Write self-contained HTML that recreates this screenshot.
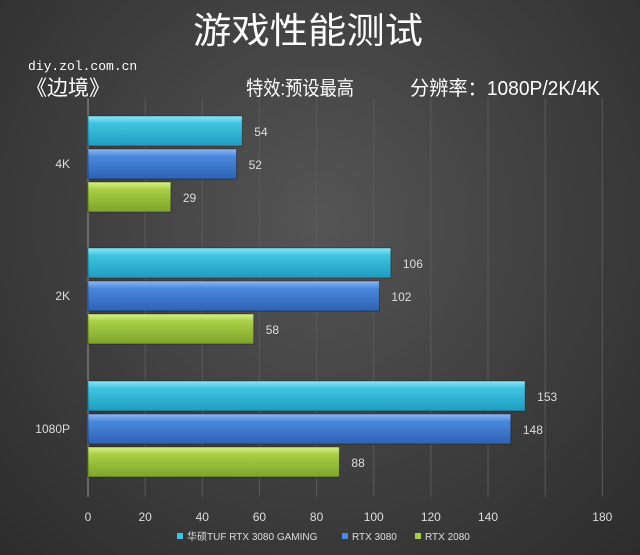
<!DOCTYPE html>
<html><head><meta charset="utf-8"><style>
body{margin:0;width:640px;height:555px;overflow:hidden;background:radial-gradient(ellipse at 50% 40%,#555 0%,#3e3e3e 55%,#2c2c2c 100%);font-family:"Liberation Sans","Noto Sans CJK SC",sans-serif;}
svg{position:absolute;left:0;top:0}
</style></head><body>
<svg width="640" height="555">
<defs>
<linearGradient id="gc" x1="0" y1="0" x2="0" y2="1"><stop offset="0" stop-color="#8ee6f5"/><stop offset="0.25" stop-color="#3ec4e0"/><stop offset="1" stop-color="#1f9cc0"/></linearGradient>
<linearGradient id="gb" x1="0" y1="0" x2="0" y2="1"><stop offset="0" stop-color="#8fb8f0"/><stop offset="0.25" stop-color="#4a88dc"/><stop offset="1" stop-color="#2e62b4"/></linearGradient>
<linearGradient id="gg" x1="0" y1="0" x2="0" y2="1"><stop offset="0" stop-color="#d8f08a"/><stop offset="0.25" stop-color="#a8cf45"/><stop offset="1" stop-color="#7ea42a"/></linearGradient>
</defs>
<text x="193" y="43" textLength="230" lengthAdjust="spacingAndGlyphs" fill="#fff" font-size="36">游戏性能测试</text>
<text x="28" y="70" fill="#fff" font-size="13" font-family="Liberation Mono,monospace">diy.zol.com.cn</text>
<text x="26" y="95" fill="#fff" font-size="21">《边境》</text>
<text x="246" y="95" textLength="108" lengthAdjust="spacingAndGlyphs" fill="#fff" font-size="20">特效:预设最高</text>
<text x="410" y="95" textLength="190" lengthAdjust="spacingAndGlyphs" fill="#fff" font-size="20">分辨率：1080P/2K/4K</text>
<g id="grid"></g><g id="bars"></g><g id="labels"></g>
<g>
<rect x="177" y="533" width="6" height="6" fill="#3ec4e0"/><text x="187" y="540" fill="#ddd" font-size="10">华硕TUF RTX 3080 GAMING</text>
<rect x="342" y="533" width="6" height="6" fill="#4a88dc"/><text x="352" y="540" fill="#ddd" font-size="10">RTX 3080</text>
<rect x="415" y="533" width="6" height="6" fill="#a8cf45"/><text x="425" y="540" fill="#ddd" font-size="10">RTX 2080</text>
</g>
</svg>
<script>
const categories=["4K","2K","1080P"];
const seriesNames=["华硕TUF RTX 3080 GAMING","RTX 3080","RTX 2080"];
const tufValues=[54,106,153];
const rtx3080Values=[52,102,148];
const rtx2080Values=[29,58,88];
const ticks=[0,20,40,60,80,100,120,140,180];
const NS="http://www.w3.org/2000/svg";
const x0=88,pxPer=400/140;
const xs=v=>x0+v*pxPer;
const groupTop=[116,248,381],barH=30,barStep=33;
const grid=document.getElementById('grid'),bars=document.getElementById('bars'),labels=document.getElementById('labels');
function mk(tag,attrs,parent){const e=document.createElementNS(NS,tag);for(const k in attrs)e.setAttribute(k,attrs[k]);parent.appendChild(e);return e;}
for(let v=0;v<=180;v+=20){
 const l=mk('line',{x1:xs(v),x2:xs(v),y1:98,y2:497,stroke:v===0?'#999':'#5a5a5a','stroke-width':1},grid);
 
 
}
ticks.forEach(t=>{
 const e=mk('text',{x:xs(t),y:521,'text-anchor':'middle',fill:'#ddd','font-size':12},labels);
 e.textContent=t;
 
 
});
const series=[tufValues,rtx3080Values,rtx2080Values],fills=['url(#gc)','url(#gb)','url(#gg)'];
categories.forEach((c,i)=>{
 const e=mk('text',{x:70,y:groupTop[i]+barStep+barH/2+4,'text-anchor':'end',fill:'#ddd','font-size':12},labels);
 e.textContent=c;
 
 
 series.forEach((s,j)=>{
  const y=groupTop[i]+j*barStep;
  const r=mk('rect',{x:x0,y:y,width:xs(s[i])-x0,height:barH,fill:fills[j],stroke:'rgba(0,0,0,0.35)','stroke-width':1},bars);
  
  
  const t=mk('text',{x:xs(s[i])+12,y:y+barH/2+5,fill:'#ddd','font-size':12},labels);
  t.textContent=s[i];
  
  
 });
});
</script>
</body></html>
